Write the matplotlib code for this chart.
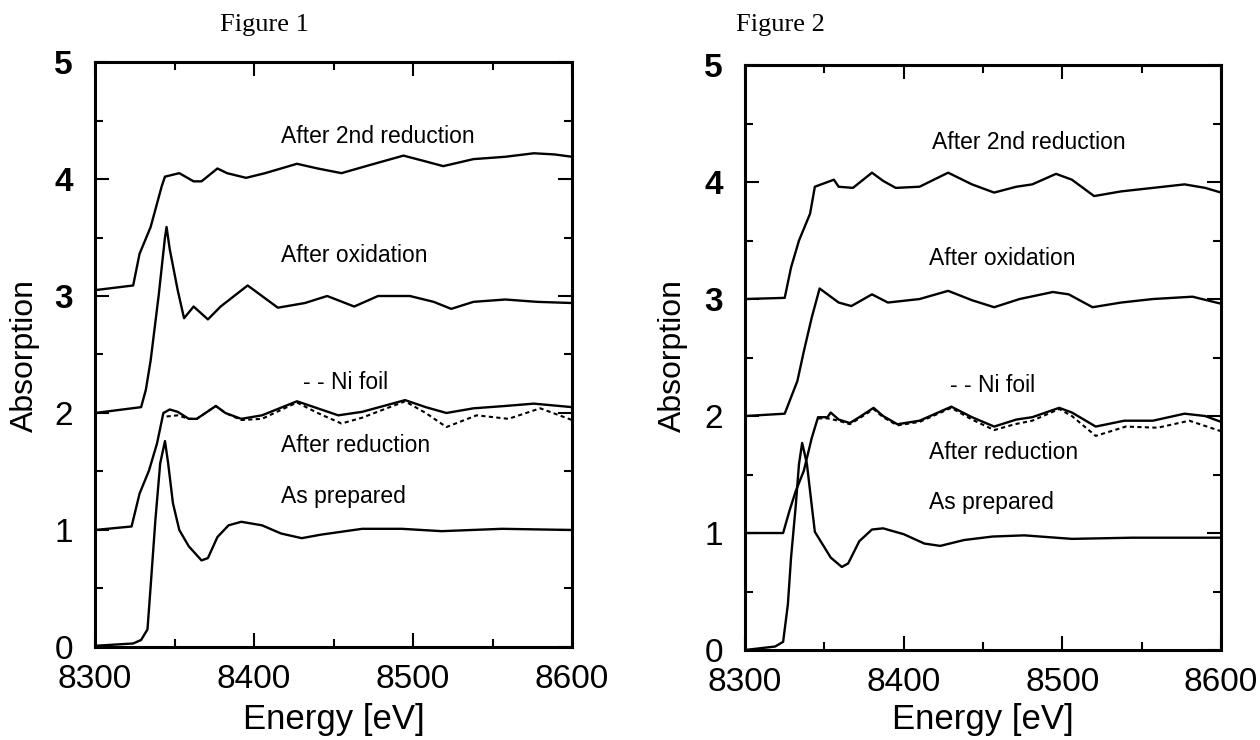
import matplotlib
matplotlib.use("Agg")
import matplotlib.pyplot as plt
from matplotlib.ticker import MultipleLocator

plt.rcParams['font.family'] = ['Liberation Sans', 'DejaVu Sans']

# ---------------- data: Figure 1 ----------------
f1_2nd_E = [8300, 8324, 8328, 8335, 8342, 8344, 8353, 8362, 8367, 8377, 8383, 8395, 8407, 8427, 8440, 8455, 8473, 8494, 8508, 8519, 8538, 8558, 8576, 8589, 8600]
f1_2nd_A = [3.05, 3.09, 3.36, 3.59, 3.94, 4.02, 4.05, 3.98, 3.98, 4.09, 4.05, 4.01, 4.05, 4.13, 4.09, 4.05, 4.12, 4.20, 4.15, 4.11, 4.17, 4.19, 4.22, 4.21, 4.19]

f1_ox_E = [8300, 8329, 8332, 8335, 8340, 8344, 8345, 8347, 8352, 8356, 8362, 8371, 8379, 8396, 8405, 8415, 8432, 8446, 8463, 8478, 8498, 8513, 8524, 8538, 8558, 8578, 8600]
f1_ox_A = [2.0, 2.05, 2.2, 2.45, 3.0, 3.5, 3.59, 3.4, 3.05, 2.81, 2.91, 2.80, 2.91, 3.09, 3.0, 2.90, 2.94, 3.0, 2.91, 3.0, 3.0, 2.95, 2.89, 2.95, 2.97, 2.95, 2.94]

f1_red_E = [8300, 8323, 8328, 8334, 8339, 8343, 8347, 8352, 8359, 8364, 8376, 8382, 8392, 8405, 8427, 8440, 8453, 8468, 8495, 8508, 8521, 8538, 8558, 8576, 8600]
f1_red_A = [1.0, 1.03, 1.31, 1.51, 1.74, 2.0, 2.03, 2.01, 1.95, 1.95, 2.06, 2.0, 1.95, 1.98, 2.10, 2.04, 1.98, 2.01, 2.11, 2.05, 2.0, 2.04, 2.06, 2.08, 2.05]

f1_ni_E = [8345, 8352, 8359, 8364, 8376, 8382, 8392, 8405, 8427, 8440, 8455, 8468, 8495, 8508, 8521, 8540, 8560, 8580, 8600]
f1_ni_A = [1.97, 1.98, 1.95, 1.95, 2.06, 2.0, 1.94, 1.95, 2.09, 2.0, 1.91, 1.96, 2.10, 2.0, 1.88, 1.98, 1.95, 2.04, 1.94]

f1_prep_E = [8300, 8324, 8329, 8333, 8335, 8338, 8341, 8344, 8346, 8349, 8353, 8359, 8367, 8371, 8377, 8384, 8392, 8405, 8417, 8430, 8442, 8468, 8493, 8518, 8556, 8600]
f1_prep_A = [0.01, 0.03, 0.06, 0.15, 0.52, 1.09, 1.57, 1.76, 1.57, 1.23, 1.0, 0.86, 0.74, 0.76, 0.94, 1.04, 1.07, 1.04, 0.97, 0.93, 0.96, 1.01, 1.01, 0.99, 1.01, 1.0]

# ---------------- data: Figure 2 ----------------
f2_2nd_E = [8300, 8325, 8329, 8334, 8341, 8344, 8348, 8356, 8359, 8368, 8380, 8387, 8395, 8410, 8428, 8443, 8457, 8471, 8481, 8496, 8506, 8520, 8537, 8557, 8577, 8590, 8600]
f2_2nd_A = [3.0, 3.01, 3.27, 3.50, 3.73, 3.96, 3.98, 4.02, 3.96, 3.95, 4.08, 4.01, 3.95, 3.96, 4.08, 3.98, 3.91, 3.96, 3.98, 4.07, 4.02, 3.88, 3.92, 3.95, 3.98, 3.95, 3.91]

f2_ox_E = [8300, 8325, 8329, 8333, 8337, 8342, 8347, 8352, 8359, 8367, 8380, 8390, 8410, 8428, 8443, 8457, 8473, 8494, 8504, 8519, 8537, 8557, 8582, 8600]
f2_ox_A = [2.0, 2.02, 2.16, 2.3, 2.55, 2.84, 3.09, 3.04, 2.97, 2.94, 3.04, 2.97, 3.0, 3.07, 2.99, 2.93, 3.0, 3.06, 3.04, 2.93, 2.97, 3.0, 3.02, 2.96]

f2_red_E = [8300, 8324, 8328, 8332, 8337, 8342, 8346, 8352, 8354, 8359, 8366, 8372, 8381, 8387, 8396, 8410, 8430, 8443, 8457, 8471, 8481, 8498, 8506, 8521, 8539, 8557, 8577, 8590, 8600]
f2_red_A = [1.0, 1.0, 1.19, 1.36, 1.53, 1.81, 1.99, 1.99, 2.03, 1.97, 1.94, 1.99, 2.07, 2.0, 1.93, 1.96, 2.08, 1.99, 1.91, 1.97, 1.99, 2.07, 2.03, 1.91, 1.96, 1.96, 2.02, 2.0, 1.95]

f2_ni_E = [8346, 8352, 8359, 8366, 8372, 8381, 8387, 8396, 8410, 8430, 8443, 8457, 8470, 8481, 8498, 8506, 8521, 8540, 8560, 8580, 8600]
f2_ni_A = [1.98, 1.98, 1.96, 1.93, 1.98, 2.06, 1.99, 1.92, 1.95, 2.07, 1.97, 1.88, 1.93, 1.96, 2.06, 2.0, 1.83, 1.91, 1.90, 1.96, 1.87]

f2_prep_E = [8300, 8319, 8324, 8327, 8329, 8332, 8334, 8336, 8339, 8342, 8344, 8349, 8354, 8361, 8365, 8372, 8380, 8387, 8400, 8413, 8423, 8438, 8456, 8476, 8506, 8544, 8600]
f2_prep_A = [0.0, 0.03, 0.07, 0.39, 0.79, 1.24, 1.59, 1.77, 1.59, 1.24, 1.01, 0.9, 0.79, 0.71, 0.74, 0.93, 1.03, 1.04, 0.99, 0.91, 0.89, 0.94, 0.97, 0.98, 0.95, 0.96, 0.96]

x_ticks = [8300, 8400, 8500, 8600]
y_ticks = [0, 1, 2, 3, 4, 5]
titles = ["Figure 1", "Figure 2"]
labels = ["After 2nd reduction", "After oxidation", "- - Ni foil", "After reduction", "As prepared"]
label_A = [[4.36, 3.35, 2.26, 1.72, 1.29], [4.34, 3.35, 2.26, 1.69, 1.26]]
label_E = [[8417, 8417, 8431, 8417, 8417], [8418, 8416, 8429, 8416, 8416]]

panels = [
    (f1_2nd_E, f1_2nd_A, f1_ox_E, f1_ox_A, f1_red_E, f1_red_A, f1_ni_E, f1_ni_A, f1_prep_E, f1_prep_A),
    (f2_2nd_E, f2_2nd_A, f2_ox_E, f2_ox_A, f2_red_E, f2_red_A, f2_ni_E, f2_ni_A, f2_prep_E, f2_prep_A),
]

fig = plt.figure(figsize=(12.6, 7.4), dpi=100)
rects = [[0.0754, 0.1257, 0.3786, 0.7905], [0.5913, 0.1216, 0.3778, 0.7905]]

for i, (rect, data) in enumerate(zip(rects, panels)):
    ax = fig.add_axes(rect)
    (e2, a2, eo, ao, er, ar, en, an, ep, ap) = data
    kw = dict(color='black', lw=1.7, solid_joinstyle='round')
    ax.plot(e2, a2, **kw)
    ax.plot(eo, ao, **kw)
    ax.plot(er, ar, **kw)
    ax.plot(en, an, color='black', lw=1.5, linestyle=(0, (2.0, 1.6)))
    ax.plot(ep, ap, **kw)
    for t, e, a in zip(labels, label_E[i], label_A[i]):
        ax.text(e, a, t, fontsize=16.5, ha='left', va='center')
    ax.set_xlim(8300, 8600)
    ax.set_ylim(0, 5)
    ax.set_xticks(x_ticks)
    ax.set_yticks(y_ticks)
    ax.xaxis.set_minor_locator(MultipleLocator(50))
    ax.yaxis.set_minor_locator(MultipleLocator(0.5))
    ax.tick_params(which='both', direction='in', top=True, right=True, width=1.5)
    ax.tick_params(which='major', length=10)
    ax.tick_params(which='minor', length=6)
    ax.tick_params(axis='x', which='major', labelsize=24, pad=12)
    ax.tick_params(axis='y', which='major', labelsize=24, pad=16)
    for lab in ax.get_yticklabels():
        if lab.get_text() in ('3', '4', '5'):
            lab.set_fontweight('bold')
    for s in ax.spines.values():
        s.set_linewidth(2.2)

# Titles
fig.text(0.21, 0.966, titles[0], fontsize=19, family='Liberation Serif', ha='center', va='center')
fig.text(0.584, 0.966, titles[1], fontsize=19, family='Liberation Serif', ha='left', va='center')

# Axis labels
for xc in (0.0198, 0.534):
    fig.text(xc, 0.519, "Absorption", fontsize=23, rotation=90, ha='center', va='center')
for xc in (0.2646, 0.7802):
    fig.text(xc, 0.0150, "Energy [eV]", fontsize=25, ha='center', va='baseline')

fig.savefig("out.png", dpi=100)
